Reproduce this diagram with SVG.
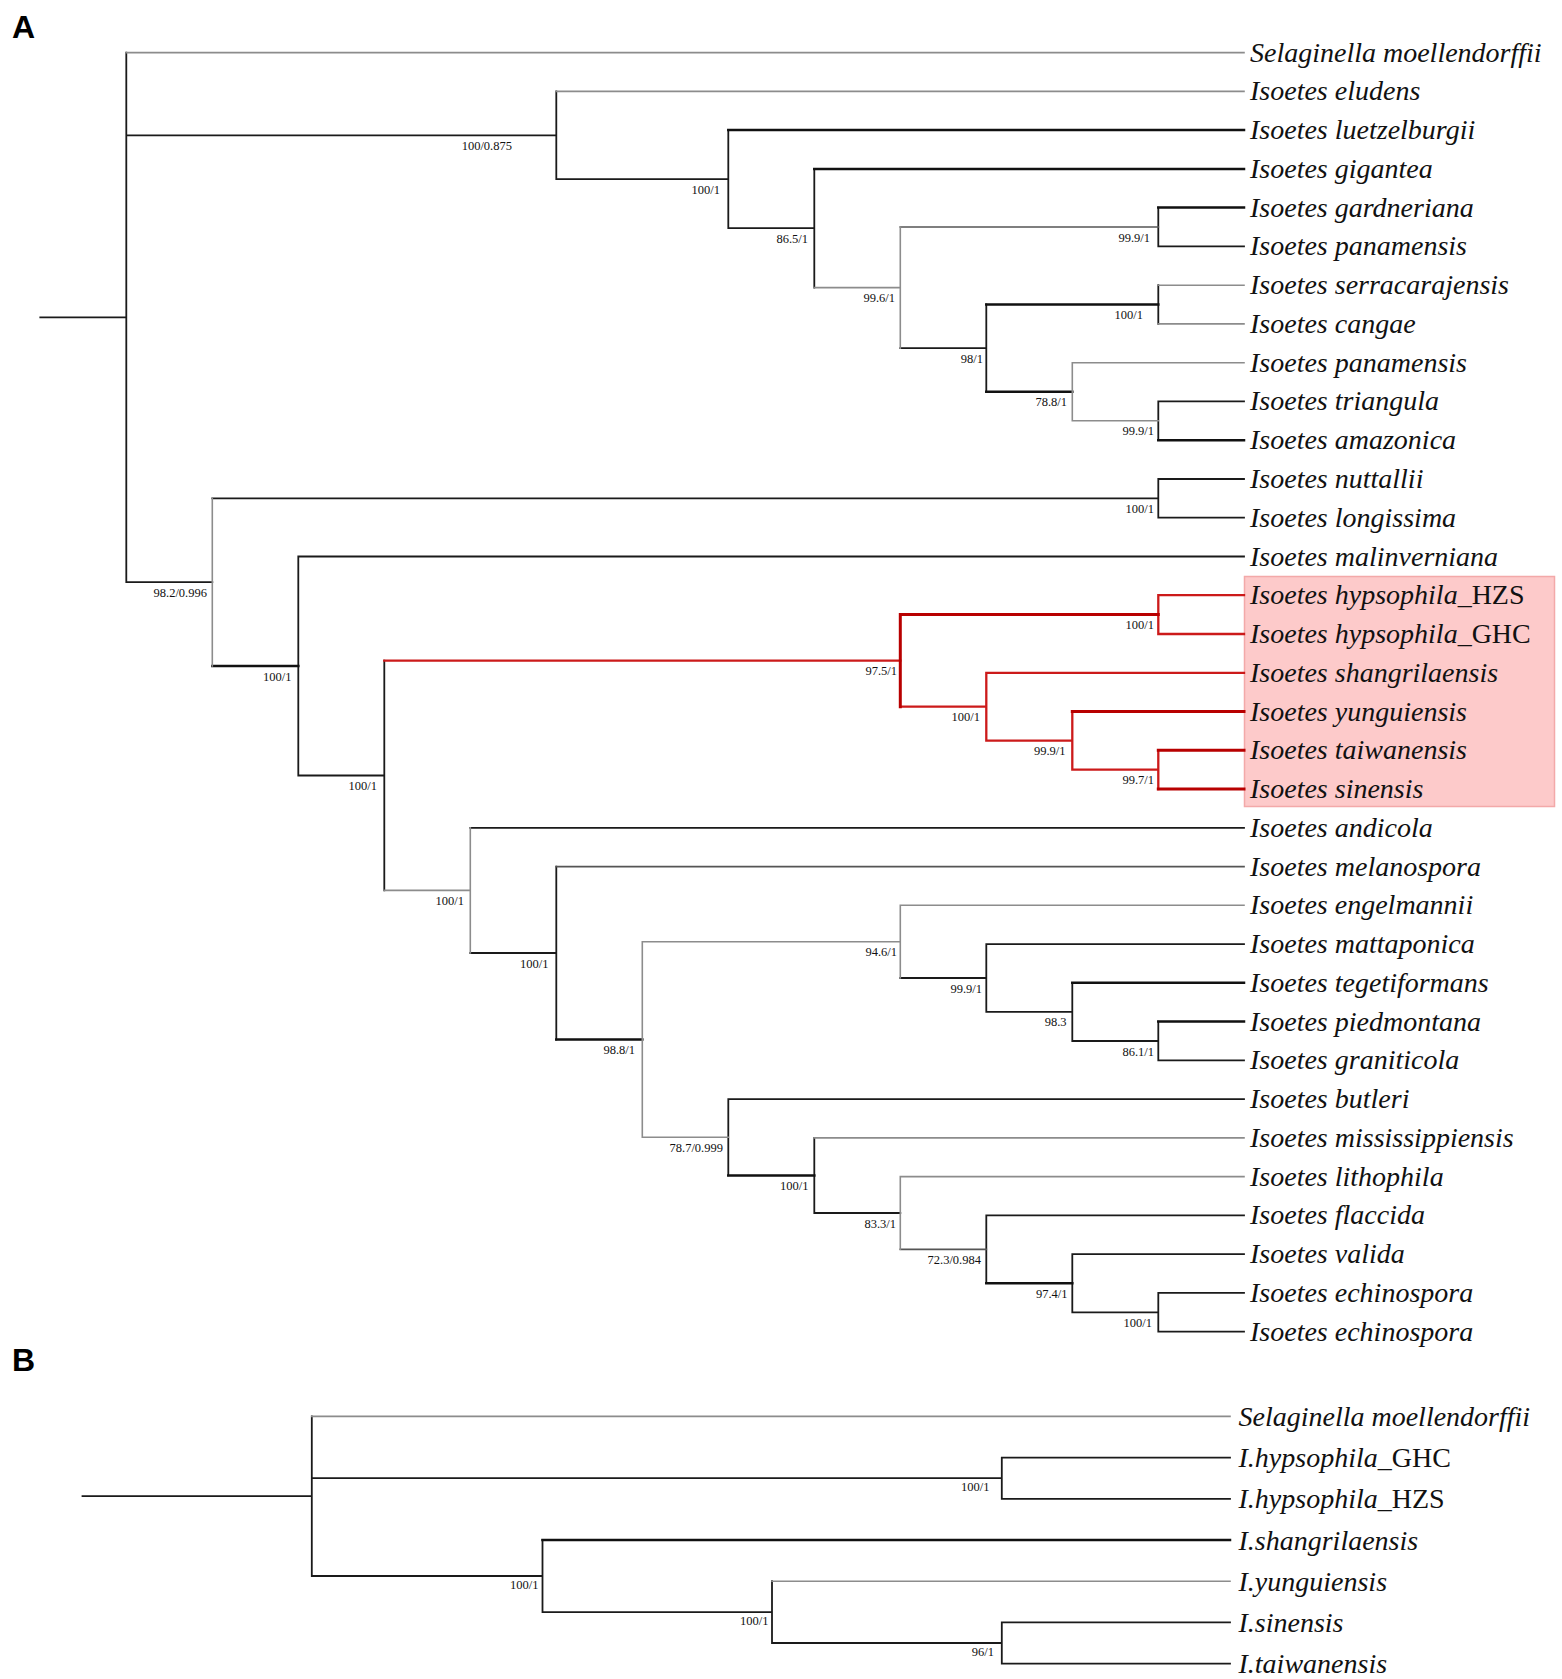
<svg xmlns="http://www.w3.org/2000/svg" width="1562" height="1679" viewBox="0 0 1562 1679">
<style>
.k{fill:none;stroke:#1a1a1a;stroke-width:1.8;stroke-linecap:square}
.kt{fill:none;stroke:#111;stroke-width:2.5;stroke-linecap:square}
.m{fill:none;stroke:#555;stroke-width:1.7;stroke-linecap:square}
.g{fill:none;stroke:#8c8c8c;stroke-width:1.6;stroke-linecap:square}
.r{fill:none;stroke:#cc1a1a;stroke-width:2.3;stroke-linecap:square}
.rt{fill:none;stroke:#b80000;stroke-width:3;stroke-linecap:square}
.lf{font-family:"Liberation Serif","Times New Roman",serif;font-style:italic;font-size:28px;fill:#111}
.up{font-style:normal}
.bs{font-family:"Liberation Serif","Times New Roman",serif;font-size:12.5px;fill:#111;text-anchor:end}
.pl{font-family:"Liberation Sans",Arial,sans-serif;font-weight:bold;font-size:32px;fill:#000}
</style>
<rect width="1562" height="1679" fill="#fff"/>
<text class="pl" x="12" y="38">A</text>
<text class="pl" x="12" y="1371">B</text>
<rect id="highlight" x="1244.5" y="576.5" width="310" height="230" fill="#fdcaca" stroke="#f3a9a9" stroke-width="1.5"/>
<g id="connectors">
<path class="k" d="M40.3,317.4H126.3M126.3,52.6V582.2M126.3,135.3H556.3M556.3,91.4V179.2M556.3,179.2H728.3M728.3,130.1V228.2M728.3,228.2H814.3M814.3,168.9V287.6M1158.3,207.6V246.4M1158.3,246.4H1244M900.3,348.2H986.3M986.3,304.5V391.8M1158.3,285.2V323.9M1158.3,401.4V440.2M1158.3,401.4H1244M126.3,582.2H212.3M212.3,498.3H1158.3M1158.3,479V517.7M1158.3,479H1244M1158.3,517.7H1244M298.3,556.5V775.5M298.3,556.5H1244M298.3,775.5H384.3M384.3,660.7V890.4M470.3,827.8H1244M470.3,953H556.3M556.3,866.6V1039.5M900.3,978H986.3M986.3,944.1V1011.9M986.3,944.1H1244M986.3,1011.9H1072.3M1072.3,982.8V1041M1072.3,1041H1158.3M1158.3,1021.6V1060.4M1158.3,1060.4H1244M728.3,1099.1V1175.4M728.3,1099.1H1244M814.3,1137.9V1213M814.3,1213H900.3M986.3,1215.4V1283.2M986.3,1215.4H1244M1072.3,1254.2V1312.3M1072.3,1254.2H1244M1072.3,1312.3H1158.3M1158.3,1292.9V1331.7M1158.3,1292.9H1244M1158.3,1331.7H1244"/>
<path class="kt" d="M728.3,130.1H1244M814.3,168.9H1244M1158.3,207.6H1244M986.3,304.5H1158.3M986.3,391.8H1072.3M1158.3,440.2H1244M212.3,666H298.3M556.3,1039.5H642.3M1072.3,982.8H1244M1158.3,1021.6H1244M728.3,1175.4H814.3M986.3,1283.2H1072.3"/>
<path class="m" d="M900.3,227H1158.3M556.3,866.6H1244M900.3,1249.3H986.3"/>
<path class="g" d="M126.3,52.6H1244M556.3,91.4H1244M814.3,287.6H900.3M900.3,227V348.2M1158.3,285.2H1244M1158.3,323.9H1244M1072.3,362.7V420.8M1072.3,362.7H1244M1072.3,420.8H1158.3M212.3,498.3V666M384.3,890.4H470.3M470.3,827.8V953M642.3,941.7V1137.3M642.3,941.7H900.3M900.3,905.3V978M900.3,905.3H1244M642.3,1137.3H728.3M814.3,1137.9H1244M900.3,1176.6V1249.3M900.3,1176.6H1244"/>
<path class="r" d="M384.3,660.7H900.3M900.3,706.7H986.3M986.3,672.8V740.6M986.3,672.8H1244M986.3,740.6H1072.3M1072.3,711.5V769.7M1072.3,769.7H1158.3M1158.3,750.3V789M1158.3,595.2V634M1158.3,595.2H1244M1158.3,634H1244"/>
<path class="rt" d="M900.3,614.6V706.7M900.3,614.6H1158.3M1072.3,711.5H1244M1158.3,750.3H1244M1158.3,789H1244"/>
<path class="k" d="M82.5,1496.2H311.8M311.8,1416.4V1576M311.8,1478.2H1001.8M1001.8,1457.6V1498.8M1001.8,1457.6H1230M1001.8,1498.8H1230M311.8,1576H542.5M542.5,1540V1612.1M542.5,1612.1H772M772,1581.2V1643M772,1643H1001.8M1001.8,1622.4V1663.6M1001.8,1622.4H1230M1001.8,1663.6H1230"/>
<path class="kt" d="M542.5,1540H1230"/>
<path class="g" d="M311.8,1416.4H1230M772,1581.2H1230"/>
</g>
<g id="leaves-a" class="lf">
<g id="a00"><text x="1250" y="61.6">Selaginella moellendorffii</text></g>
<g id="a01"><text x="1250" y="100.4">Isoetes eludens</text></g>
<g id="a02"><text x="1250" y="139.1">Isoetes luetzelburgii</text></g>
<g id="a03"><text x="1250" y="177.9">Isoetes gigantea</text></g>
<g id="a04"><text x="1250" y="216.6">Isoetes gardneriana</text></g>
<g id="a05"><text x="1250" y="255.4">Isoetes panamensis</text></g>
<g id="a06"><text x="1250" y="294.2">Isoetes serracarajensis</text></g>
<g id="a07"><text x="1250" y="332.9">Isoetes cangae</text></g>
<g id="a08"><text x="1250" y="371.7">Isoetes panamensis</text></g>
<g id="a09"><text x="1250" y="410.4">Isoetes triangula</text></g>
<g id="a10"><text x="1250" y="449.2">Isoetes amazonica</text></g>
<g id="a11"><text x="1250" y="488">Isoetes nuttallii</text></g>
<g id="a12"><text x="1250" y="526.7">Isoetes longissima</text></g>
<g id="a13"><text x="1250" y="565.5">Isoetes malinverniana</text></g>
<g id="a14"><text x="1250" y="604.2">Isoetes hypsophila<tspan class="up">_HZS</tspan></text></g>
<g id="a15"><text x="1250" y="643">Isoetes hypsophila<tspan class="up">_GHC</tspan></text></g>
<g id="a16"><text x="1250" y="681.8">Isoetes shangrilaensis</text></g>
<g id="a17"><text x="1250" y="720.5">Isoetes yunguiensis</text></g>
<g id="a18"><text x="1250" y="759.3">Isoetes taiwanensis</text></g>
<g id="a19"><text x="1250" y="798">Isoetes sinensis</text></g>
<g id="a20"><text x="1250" y="836.8">Isoetes andicola</text></g>
<g id="a21"><text x="1250" y="875.6">Isoetes melanospora</text></g>
<g id="a22"><text x="1250" y="914.3">Isoetes engelmannii</text></g>
<g id="a23"><text x="1250" y="953.1">Isoetes mattaponica</text></g>
<g id="a24"><text x="1250" y="991.8">Isoetes tegetiformans</text></g>
<g id="a25"><text x="1250" y="1030.6">Isoetes piedmontana</text></g>
<g id="a26"><text x="1250" y="1069.4">Isoetes graniticola</text></g>
<g id="a27"><text x="1250" y="1108.1">Isoetes butleri</text></g>
<g id="a28"><text x="1250" y="1146.9">Isoetes mississippiensis</text></g>
<g id="a29"><text x="1250" y="1185.6">Isoetes lithophila</text></g>
<g id="a30"><text x="1250" y="1224.4">Isoetes flaccida</text></g>
<g id="a31"><text x="1250" y="1263.2">Isoetes valida</text></g>
<g id="a32"><text x="1250" y="1301.9">Isoetes echinospora</text></g>
<g id="a33"><text x="1250" y="1340.7">Isoetes echinospora</text></g>
</g>
<g id="support-a" class="bs">
<g id="n-el"><text x="512" y="149.8">100/0.875</text></g>
<g id="n-lu"><text x="720" y="193.7">100/1</text></g>
<g id="n-gi"><text x="808" y="242.7">86.5/1</text></g>
<g id="n-g2"><text x="895" y="302.1">99.6/1</text></g>
<g id="n-gp"><text x="1150" y="241.5">99.9/1</text></g>
<g id="n-98"><text x="983" y="362.7">98/1</text></g>
<g id="n-sc"><text x="1143" y="319">100/1</text></g>
<g id="n-788"><text x="1067" y="406.3">78.8/1</text></g>
<g id="n-ta"><text x="1154" y="435.3">99.9/1</text></g>
<g id="n-b"><text x="207" y="596.7">98.2/0.996</text></g>
<g id="n-nl"><text x="1154" y="512.8">100/1</text></g>
<g id="n-c"><text x="291.5" y="680.5">100/1</text></g>
<g id="n-d"><text x="377" y="790">100/1</text></g>
<g id="n-red"><text x="897" y="675.2">97.5/1</text></g>
<g id="n-hy"><text x="1154" y="629.1">100/1</text></g>
<g id="n-100"><text x="980" y="721.2">100/1</text></g>
<g id="n-999"><text x="1065.5" y="755.1">99.9/1</text></g>
<g id="n-997"><text x="1154" y="784.2">99.7/1</text></g>
<g id="n-e"><text x="464" y="904.9">100/1</text></g>
<g id="n-f"><text x="548.5" y="967.5">100/1</text></g>
<g id="n-g"><text x="635" y="1054">98.8/1</text></g>
<g id="n-946"><text x="897" y="956.2">94.6/1</text></g>
<g id="n-999b"><text x="982" y="992.5">99.9/1</text></g>
<g id="n-983"><text x="1066.5" y="1026.4">98.3</text></g>
<g id="n-861"><text x="1154" y="1055.5">86.1/1</text></g>
<g id="n-787"><text x="723" y="1151.8">78.7/0.999</text></g>
<g id="n-100c"><text x="808.5" y="1189.9">100/1</text></g>
<g id="n-833"><text x="896" y="1227.5">83.3/1</text></g>
<g id="n-723"><text x="981" y="1263.8">72.3/0.984</text></g>
<g id="n-974"><text x="1067.5" y="1297.7">97.4/1</text></g>
<g id="n-100d"><text x="1152" y="1326.8">100/1</text></g>
</g>
<g id="leaves-b" class="lf">
<g id="b0"><text x="1238.5" y="1426">Selaginella moellendorffii</text></g>
<g id="b1"><text x="1238.5" y="1467.2">I.hypsophila<tspan class="up">_GHC</tspan></text></g>
<g id="b2"><text x="1238.5" y="1508.4">I.hypsophila<tspan class="up">_HZS</tspan></text></g>
<g id="b3"><text x="1238.5" y="1549.6">I.shangrilaensis</text></g>
<g id="b4"><text x="1238.5" y="1590.8">I.yunguiensis</text></g>
<g id="b5"><text x="1238.5" y="1632">I.sinensis</text></g>
<g id="b6"><text x="1238.5" y="1673.2">I.taiwanensis</text></g>
</g>
<g id="support-b" class="bs">
<g id="nb-hyp"><text x="989.5" y="1491.2">100/1</text></g>
<g id="nb-s"><text x="538.5" y="1589">100/1</text></g>
<g id="nb-y"><text x="768.5" y="1625.1">100/1</text></g>
<g id="nb-st"><text x="994" y="1656">96/1</text></g>
</g>
</svg>
